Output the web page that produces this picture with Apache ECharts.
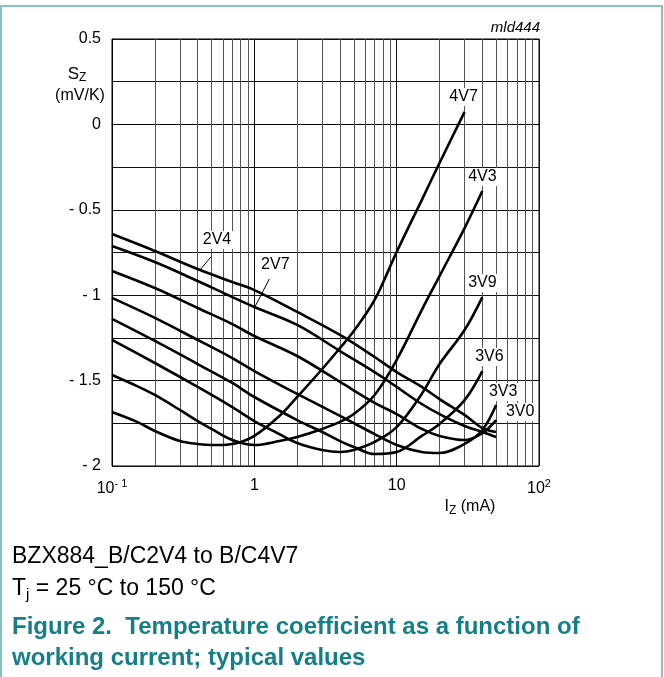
<!DOCTYPE html>
<html><head><meta charset="utf-8">
<script src="https://cdn.jsdelivr.net/npm/echarts@6/dist/echarts.min.js"></script>
<style>html,body{margin:0;padding:0;background:#fff}#c{width:664px;height:677px}</style>
</head><body><div id="c"></div>
<script>
// ---- data ----
const xTickValues = [0.1, 1, 10, 100];
const yTickValues = [0.5, 0, -0.5, -1, -1.5, -2];
const minorXLines = [0.2,0.3,0.4,0.5,0.6,0.7,0.8,0.9,2,3,4,5,6,7,8,9,20,30,40,50,60,70,80,90];
const curveNames = ['2V4','2V7','3V0','3V3','3V6','3V9','4V3','4V7'];
const c2V4 = [[0.1,-0.642],[0.2,-0.741],[0.4,-0.847],[0.7,-0.923],[1,-0.970],[2,-1.098],[4,-1.233],[7,-1.362],[10,-1.450],[15,-1.537],[20,-1.608],[30,-1.701],[40,-1.778],[50,-1.801]];
const c2V7 = [[0.1,-0.712],[0.2,-0.806],[0.4,-0.917],[0.7,-1.011],[1,-1.069],[2,-1.174],[4,-1.327],[7,-1.450],[10,-1.537],[15,-1.637],[20,-1.696],[30,-1.766],[40,-1.801],[50,-1.830]];
const c3V0 = [[0.1,-0.858],[0.2,-0.958],[0.4,-1.075],[0.7,-1.169],[1,-1.239],[2,-1.356],[4,-1.508],[7,-1.631],[10,-1.696],[15,-1.783],[20,-1.824],[30,-1.848],[40,-1.807],[50,-1.731]];
const c3V3 = [[0.1,-1.016],[0.2,-1.133],[0.4,-1.262],[0.7,-1.368],[1,-1.444],[2,-1.578],[4,-1.707],[7,-1.813],[10,-1.877],[15,-1.918],[20,-1.924],[30,-1.871],[40,-1.789],[50,-1.643]];
const c3V6 = [[0.1,-1.139],[0.2,-1.268],[0.4,-1.403],[0.7,-1.514],[1,-1.596],[2,-1.731],[3,-1.801],[4,-1.854],[5,-1.889],[7,-1.930],[10,-1.918],[15,-1.824],[20,-1.754],[30,-1.614],[40,-1.444]];
const c3V9 = [[0.1,-1.262],[0.2,-1.397],[0.4,-1.537],[0.7,-1.655],[1,-1.737],[1.5,-1.813],[2,-1.865],[3,-1.906],[4,-1.918],[5,-1.906],[7,-1.859],[10,-1.772],[15,-1.578],[20,-1.403],[30,-1.204],[40,-1.011]];
const c4V3 = [[0.1,-1.467],[0.15,-1.532],[0.2,-1.584],[0.3,-1.672],[0.4,-1.737],[0.5,-1.783],[0.7,-1.848],[1,-1.877],[1.5,-1.854],[2,-1.830],[3,-1.783],[4,-1.742],[5,-1.696],[7,-1.584],[10,-1.379],[15,-1.087],[20,-0.888],[30,-0.607],[40,-0.390]];
const c4V7 = [[0.1,-1.684],[0.15,-1.742],[0.2,-1.795],[0.3,-1.854],[0.4,-1.871],[0.5,-1.877],[0.6,-1.877],[0.7,-1.871],[0.8,-1.860],[1,-1.824],[1.5,-1.707],[2,-1.596],[3,-1.432],[4,-1.309],[5,-1.210],[7,-1.028],[10,-0.747],[15,-0.443],[20,-0.226],[30,0.073]];
const curveData = [c2V4,c2V7,c3V0,c3V3,c3V6,c3V9,c4V3,c4V7];
// label anchors (on curves)
const labelAnchors = {
  '4V7':[30,0.073], '4V3':[40,-0.390], '3V9':[40,-1.011], '3V6':[40,-1.444],
  '3V3':[50,-1.643], '3V0':[50,-1.731], '2V4':[0.415,-0.852], '2V7':[1,-1.069]
};

const FONT = "'Liberation Sans', Arial, sans-serif";
const chart = echarts.init(document.getElementById('c'), null, {renderer:'canvas'});

const series = curveNames.map((n,i)=>({
  name:n, type:'line', data:curveData[i], showSymbol:false, smooth:0.35,
  lineStyle:{color:'#000', width:2.6}, z:5, silent:true
}));
series.push({
  type:'line', data:[], z:1, silent:true,
  markLine:{silent:true, symbol:['none','none'], label:{show:false},
    lineStyle:{color:'#555', width:1, type:'solid'}, animation:false,
    data:minorXLines.map(v=>({xAxis:v}))}
});

function xFmt(v){
  if (Math.abs(v-0.1)<1e-9) return '10{s|- 1}';
  if (Math.abs(v-100)<1e-6) return '10{s|2}';
  if (Math.abs(v-1)<1e-9) return '1';
  if (Math.abs(v-10)<1e-6) return '10';
  return '';
}
function yFmt(v){
  if (yTickValues.indexOf(v) < 0) return '';
  if (v === 0) return '0';
  return v < 0 ? '- ' + Math.abs(v) : String(v);
}

chart.setOption({
  animation:false,
  backgroundColor:'#fff',
  grid:{left:112, top:39, width:427, height:427, show:true, borderColor:'#000', borderWidth:1, backgroundColor:'transparent'},
  xAxis:{type:'log', logBase:10, min:xTickValues[0], max:xTickValues[xTickValues.length-1],
    axisLine:{show:true, lineStyle:{color:'#000', width:1}}, axisTick:{show:false},
    splitLine:{show:true, lineStyle:{color:'#111', width:1}},
    axisLabel:{formatter:xFmt, margin:12, color:'#000', fontFamily:FONT, fontSize:16,
      rich:{s:{fontSize:11, fontFamily:FONT, color:'#000', padding:[0,0,10,0]}}}},
  yAxis:{type:'value', min:-2, max:0.5, interval:0.5,
    axisLine:{show:true, lineStyle:{color:'#000', width:1}}, axisTick:{show:false},
    splitLine:{show:true, lineStyle:{color:'#111', width:1}},
    minorTick:{show:false, splitNumber:2},
    minorSplitLine:{show:true, lineStyle:{color:'#111', width:1}},
    axisLabel:{formatter:yFmt, margin:11, color:'#000', fontFamily:FONT, fontSize:16}},
  series:series
});

const offsets = {
  '4V7':[-1,-15], '4V3':[0,-14], '3V9':[0,-14], '3V6':[7,-14],
  '3V3':[7,-13], '3V0':[24,-8], '2V4':[17,-30], '2V7':[21,-42]
};
const leaders = {'2V4':[[0,0],[11,-13]], '2V7':[[1,-1],[15,-28]]};
const g = [];
curveNames.forEach(n=>{
  const p = chart.convertToPixel({gridIndex:0}, labelAnchors[n]);
  const o = offsets[n];
  if (leaders[n]) {
    const l = leaders[n];
    g.push({type:'line', z:20, shape:{x1:p[0]+l[0][0], y1:p[1]+l[0][1], x2:p[0]+l[1][0], y2:p[1]+l[1][1]}, style:{stroke:'#000', lineWidth:1}});
  }
  g.push({type:'text', z:30, x:p[0]+o[0], y:p[1]+o[1], style:{text:n, font:'16px '+FONT, fill:'#000', align:'center', verticalAlign:'middle', backgroundColor:'#fff', padding:[1,2,1,2]}});
});
// titles / axis names
g.push({type:'text', z:30, x:540, y:28, style:{text:'mld444', font:'italic 15px '+FONT, fill:'#000', align:'right', verticalAlign:'middle'}});
g.push({type:'text', z:30, x:77, y:74, style:{text:'S{z|Z}', font:'17px '+FONT, fill:'#000', align:'center', verticalAlign:'middle', rich:{z:{fontSize:12, fontFamily:FONT, padding:[8,0,0,0]}}}});
g.push({type:'text', z:30, x:80, y:96, style:{text:'(mV/K)', font:'16px '+FONT, fill:'#000', align:'center', verticalAlign:'middle'}});
g.push({type:'text', z:30, x:470, y:507, style:{text:'I{z|Z} (mA)', font:'16px '+FONT, fill:'#000', align:'center', verticalAlign:'middle', rich:{z:{fontSize:12, fontFamily:FONT, padding:[8,0,0,0]}}}});
// caption
g.push({type:'text', z:30, x:12, y:557, style:{text:'BZX884_B/C2V4 to B/C4V7', font:'23px '+FONT, fill:'#000', align:'left', verticalAlign:'middle'}});
g.push({type:'text', z:30, x:12, y:589, style:{text:'T{j|j} = 25 °C to 150 °C', font:'23px '+FONT, fill:'#000', align:'left', verticalAlign:'middle', rich:{j:{fontSize:15, fontFamily:FONT, padding:[12,0,0,0]}}}});
g.push({type:'text', z:30, x:12, y:627, style:{text:'Figure 2.  Temperature coefficient as a function of', font:'bold 24px '+FONT, fill:'#157f88', align:'left', verticalAlign:'middle'}});
g.push({type:'text', z:30, x:12, y:658, style:{text:'working current; typical values', font:'bold 24px '+FONT, fill:'#157f88', align:'left', verticalAlign:'middle'}});
// outer frame
g.push({type:'rect', z:0, shape:{x:1, y:6, width:661, height:700}, style:{fill:'none', stroke:'#86c1c5', lineWidth:2}});
chart.setOption({graphic:g});
</script></body></html>
